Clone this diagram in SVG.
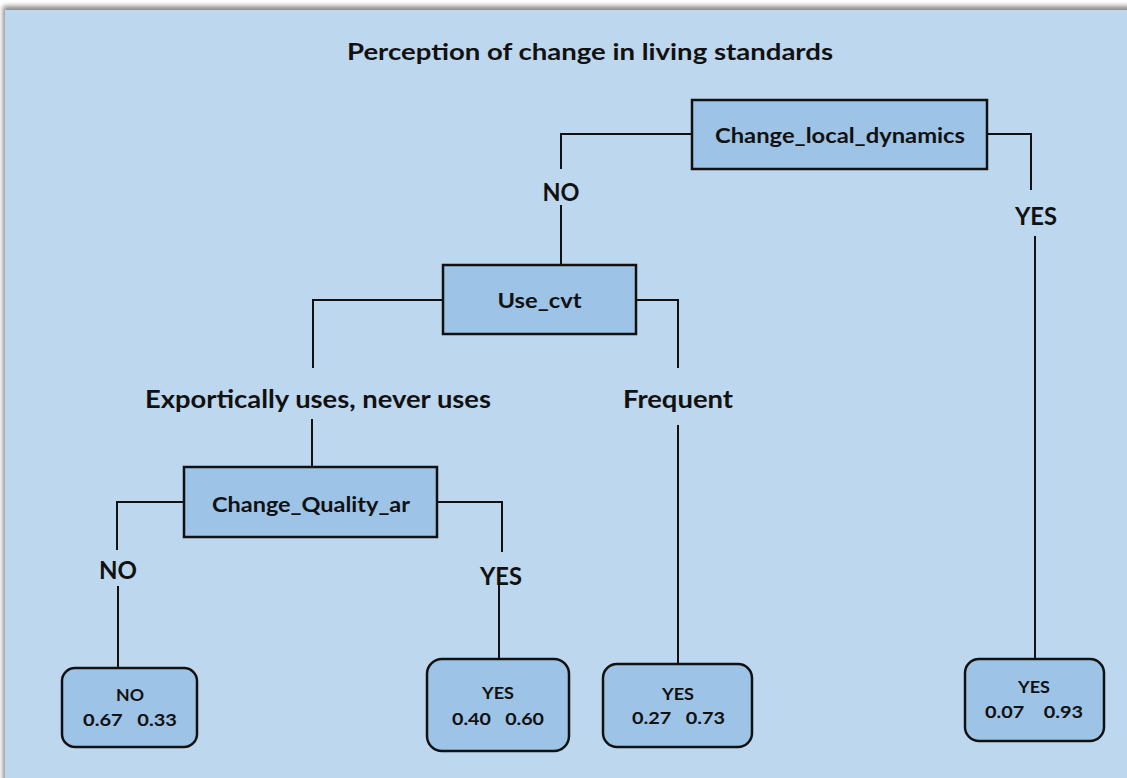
<svg xmlns="http://www.w3.org/2000/svg" width="1127" height="778" viewBox="0 0 1127 778">
<defs>
<filter id="sh" x="-5%" y="-5%" width="110%" height="110%"><feGaussianBlur stdDeviation="2.5"/></filter>
<style>
text{font-family:Lato,"Open Sans","Liberation Sans",sans-serif;font-weight:bold;fill:#111;text-anchor:middle}
.title{font-size:23px}
.lbl{font-size:25px}
.nt{font-size:21px}
.lt{font-size:17px}
.box{fill:#9DC3E6;stroke:#111;stroke-width:2.5}
.leaf{fill:#9DC3E6;stroke:#111;stroke-width:2.5}
#connectors path{fill:none;stroke:#111;stroke-width:2}
</style>
</defs>
<rect x="0" y="0" width="1127" height="778" fill="#ffffff"/>
<rect x="3" y="6" width="1140" height="790" fill="#8a8a8a" filter="url(#sh)"/>
<rect x="5" y="10" width="1130" height="780" fill="#BDD7EE"/>
<text class="title" x="590" y="60" textLength="486" lengthAdjust="spacingAndGlyphs">Perception of change in living standards</text>

<g id="connectors">
<path d="M692,134 H561 V169"/>
<path d="M561,205 V265"/>
<path d="M987,134 H1031 V190"/>
<path d="M1035,236 V659"/>
<path d="M443,300 H313 V368"/>
<path d="M312,419 V467"/>
<path d="M636,300 H678 V368"/>
<path d="M678,425 V664"/>
<path d="M184,502 H117 V550"/>
<path d="M118,586 V667"/>
<path d="M437,502 H502 V552"/>
<path d="M499,568 V659"/>
</g>

<g id="edge-labels">
<text class="lbl" x="561" y="201" textLength="37" lengthAdjust="spacingAndGlyphs">NO</text>
<text class="lbl" x="1036" y="225" textLength="42" lengthAdjust="spacingAndGlyphs">YES</text>
<text class="lbl" x="318" y="408" textLength="346" lengthAdjust="spacingAndGlyphs">Exportically uses, never uses</text>
<text class="lbl" x="678" y="408" textLength="110" lengthAdjust="spacingAndGlyphs">Frequent</text>
<text class="lbl" x="118" y="579" textLength="38" lengthAdjust="spacingAndGlyphs">NO</text>
<text class="lbl" x="501" y="585" textLength="42" lengthAdjust="spacingAndGlyphs">YES</text>
</g>

<g id="node-change-local-dynamics">
<rect class="box" x="692" y="100" width="295" height="69"/>
<text class="nt" x="840" y="143" textLength="250" lengthAdjust="spacingAndGlyphs">Change_local_dynamics</text>
</g>
<g id="node-use-cvt">
<rect class="box" x="443" y="265" width="193" height="69"/>
<text class="nt" x="539.5" y="308" textLength="84" lengthAdjust="spacingAndGlyphs">Use_cvt</text>
</g>
<g id="node-change-quality-ar">
<rect class="box" x="184" y="467" width="253" height="70"/>
<text class="nt" x="311" y="512" textLength="198" lengthAdjust="spacingAndGlyphs">Change_Quality_ar</text>
</g>

<g id="leaf-no">
<rect class="leaf" x="62" y="668" width="135" height="79" rx="13"/>
<text class="lt" x="130" y="701" textLength="28" lengthAdjust="spacingAndGlyphs">NO</text>
<text class="lt" x="130" y="726" textLength="94" lengthAdjust="spacingAndGlyphs" xml:space="preserve">0.67   0.33</text>
</g>
<g id="leaf-yes-1">
<rect class="leaf" x="427" y="659" width="142" height="92" rx="15"/>
<text class="lt" x="498" y="699" textLength="32" lengthAdjust="spacingAndGlyphs">YES</text>
<text class="lt" x="498" y="725" textLength="92" lengthAdjust="spacingAndGlyphs" xml:space="preserve">0.40   0.60</text>
</g>
<g id="leaf-yes-2">
<rect class="leaf" x="603" y="664" width="149" height="83" rx="14"/>
<text class="lt" x="678" y="700" textLength="32" lengthAdjust="spacingAndGlyphs">YES</text>
<text class="lt" x="678.5" y="724" textLength="93" lengthAdjust="spacingAndGlyphs" xml:space="preserve">0.27   0.73</text>
</g>
<g id="leaf-yes-3">
<rect class="leaf" x="965" y="659" width="139" height="82" rx="14"/>
<text class="lt" x="1034" y="693" textLength="32" lengthAdjust="spacingAndGlyphs">YES</text>
<text class="lt" x="1034" y="718" textLength="98" lengthAdjust="spacingAndGlyphs" xml:space="preserve">0.07    0.93</text>
</g>
</svg>
